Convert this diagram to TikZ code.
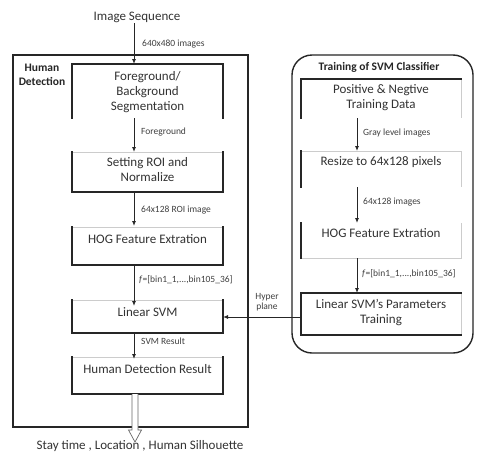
\documentclass[tikz,border=0pt]{standalone}
\usepackage{fontspec}
\setmainfont{Carlito}
\usetikzlibrary{arrows.meta}
\begin{document}
\begin{tikzpicture}[x=1pt,y=-1pt,
  area/.style={draw=none,inner sep=0pt,outer sep=0pt},
  blk/.style={line width=1.4pt,black!85,line cap=rect},
  faint/.style={line width=0.5pt,gray!40},
  frame/.style={line width=1.4pt,black!85},
  txt/.style={inner sep=0pt,align=center,text=black!80,font=\fontsize{13}{15}\selectfont},
  lbl/.style={inner sep=0pt,anchor=west,text=black!75,font=\fontsize{9.5}{11}\selectfont},
  ttl/.style={inner sep=0pt,align=center,text=black!85,font=\fontsize{11.5}{14}\selectfont\bfseries},
  arr/.style={line width=0.9pt,black!85,-{Latex[length=5pt,width=4pt]}}]
\useasboundingbox (0,0) rectangle (486,466);
\fill[white] (0,0) rectangle (486,466);

% outer frames
\node[area,minimum width=235pt,minimum height=372pt] (HD) at (130.5,241) {};
\draw[frame] (HD.north west) rectangle (HD.south east);
\node[area,minimum width=181pt,minimum height=298pt] (TR) at (382.5,204) {};
\draw[frame,rounded corners=20pt] (TR.north west) rectangle (TR.south east);

\node[ttl] (hdt) at (42,75) {Human\\Detection};
\node[ttl] (trt) at (379,67) {Training of SVM Classifier};

% left column boxes
\node[area,minimum width=151pt,minimum height=54pt] (L1) at (147.5,91) {};
\node[area,minimum width=151pt,minimum height=40pt] (L2) at (147.5,172) {};
\node[area,minimum width=151pt,minimum height=38pt] (L3) at (147.5,246) {};
\node[area,minimum width=151pt,minimum height=33pt] (L4) at (147.5,316.5) {};
\node[area,minimum width=151pt,minimum height=37pt] (L5) at (147.5,375.5) {};

\draw[blk] (L1.south west) -- (L1.north west) -- (L1.north east) -- (L1.south east);
\foreach \b in {L2,L3,L4,L5}{
  \draw[faint] (\b.north west) -- (\b.north east);
  \draw[blk] (\b.north west) -- (\b.south west) -- (\b.south east) -- (\b.north east);
}

\node[txt] (L1t) at (147.5,92) {Foreground/\\Background\\Segmentation};
\node[txt] (L2t) at (147.5,169.5) {Setting ROI and\\Normalize};
\node[txt] (L3t) at (147.5,239.5) {HOG Feature Extration};
\node[txt] (L4t) at (147.5,312.5) {Linear SVM};
\node[txt] (L5t) at (147.5,369.5) {Human Detection Result};

% right column boxes
\node[area,minimum width=160pt,minimum height=39pt] (R1) at (381,98.5) {};
\node[area,minimum width=160pt,minimum height=36pt] (R2) at (381,169) {};
\node[area,minimum width=160pt,minimum height=35pt] (R3) at (381,240.5) {};
\node[area,minimum width=160pt,minimum height=42pt] (R4) at (381,314) {};

\draw[faint] (R1.north east) -- (R1.south east);
\draw[blk] (R1.south west) -- (R1.north west) -- (R1.north east);
\draw[faint] (R2.north west) -- (R2.north east) -- (R2.south east);
\draw[blk] (R2.north west) -- (R2.south west);
\draw[faint] (R3.south west) -- (R3.south east) -- (R3.north east);
\draw[blk] (R3.north west) -- (R3.south west);
\draw[faint] (R4.north east) -- (R4.south east);
\draw[blk] (R4.north east) -- (R4.north west) -- (R4.south west) -- (R4.south east);

\node[txt] (R1t) at (381,98) {Positive \& Negtive\\Training Data};
\node[txt] (R2t) at (381,162.5) {Resize to 64x128 pixels};
\node[txt] (R3t) at (381,233.5) {HOG Feature Extration};
\node[txt] (R4t) at (381,313) {Linear SVM’s Parameters\\Training};

% top and bottom texts
\node[txt] (IS) at (137,17.5) {Image Sequence};
\node[txt] (OUT) at (140,446.5) {Stay time , Location , Human Silhouette};

% arrows, left column
\coordinate (ax) at (134,0);
\coordinate (bx) at (357,0);
\draw[arr] (IS.south -| ax) -- (L1.north -| ax);
\draw[arr] (L1.south -| ax) -- (L2.north -| ax);
\draw[arr] (L2.south -| ax) -- ([yshift=1pt]L3.north -| ax);
\draw[arr] (L3.south -| ax) -- ([yshift=-6pt]L4.north -| ax);
\draw[arr] (L4.south -| ax) -- ([yshift=-2pt]L5.north -| ax);

\node[lbl] (l0) at (142,44) {640x480 images};
\node[lbl] (l1) at (141,132) {Foreground};
\node[lbl] (l2) at (141,210) {64x128 ROI image};
\node[lbl] (l3) at (139,280) {\textit{f}=[bin1\_1,...,bin105\_36]};
\node[lbl] (l4) at (141,341) {SVM Result};

% arrows, right column
\draw[arr] (R1.south -| bx) -- (R2.north -| bx);
\draw[arr] (R2.south -| bx) -- (R3.north -| bx);
\draw[arr] (R3.south -| bx) -- (R4.north -| bx);

\node[lbl] (r1) at (363,133) {Gray level images};
\node[lbl] (r2) at (363,202) {64x128 images};
\node[lbl] (r3) at (362,274) {\textit{f}=[bin1\_1,...,bin105\_36]};

% hyper plane connector
\draw[arr] (R4.west |- 0,317) -- (L4.east |- 0,317);
\node[lbl,anchor=center,align=center,font=\fontsize{9.5}{10}\selectfont] (hp) at (267,302) {Hyper\\plane};

% hollow output arrow
\draw[line width=0.7pt,black!60,fill=white]
  ([xshift=-3pt]L5.south -| 135,0) -- (132,430) -- (128.5,430) -- (135,442)
  -- (141.5,430) -- (138,430) -- ([xshift=3pt]L5.south -| 135,0);
\end{tikzpicture}
\end{document}
